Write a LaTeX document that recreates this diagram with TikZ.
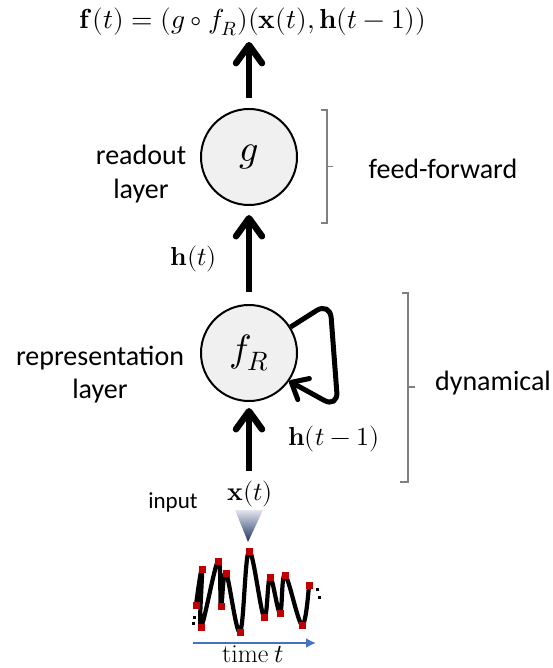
\documentclass[tikz,border=0pt]{standalone}
\usepackage{fontspec}
\usepackage{unicode-math}
\setmainfont{Carlito}
\setmathfont{Latin Modern Math}
\setmathrm{Latin Modern Roman}
\usetikzlibrary{arrows.meta}
\definecolor{sigred}{RGB}{192,0,0}
\definecolor{timeblue}{RGB}{68,114,196}
\definecolor{brkgray}{RGB}{128,128,128}
\definecolor{unitfill}{RGB}{240,240,240}
\definecolor{triTop}{RGB}{226,230,238}
\definecolor{triBot}{RGB}{30,52,98}
\begin{document}
\begin{tikzpicture}[x=1pt,y=-1pt,
  lbl/.style={font=\fontsize{28}{33}\selectfont, align=center, inner sep=0pt},
  mth/.style={font=\fontsize{26}{30}\selectfont, inner sep=0pt},
  unit/.style={circle, draw, line width=2pt, fill=unitfill, minimum size=96pt, inner sep=0pt, font=\fontsize{38}{40}\selectfont},
  bigarrow/.style={line width=6.5pt, -{Straight Barb[length=18pt,width=26pt,round]}},
  loopar/.style={line width=5pt, rounded corners=16pt, -{Straight Barb[length=14pt,width=24pt,round]}},
  brk/.style={draw=brkgray, line width=1.5pt},
]
\useasboundingbox (0,0) rectangle (553,668);

% title formula
\node[mth, font=\fontsize{27.5}{30}\selectfont, anchor=base] (title) at (253,29) {$\symbf{f}(t) = (g\circ f_R)(\symbf{x}(t),\symbf{h}(t-1))$};

% units
\node[unit] (g) at (249,157) {$g$};
\node[unit] (fR) at (249,353) {$f_R$};

% labels
\node[lbl, anchor=base] (ro) at (141,198) {readout\\layer};
\node[lbl, anchor=base] (rep) at (100,398) {representation\\layer};
\node[lbl, anchor=base] (ff) at (443,179) {feed-forward};
\node[lbl, anchor=base] (dyn) at (493,390) {dynamical};
\node[mth, anchor=base east] (ht) at (217,265) {$\symbf{h}(t)$};
\node[mth, anchor=base west] (htm) at (288,445) {$\symbf{h}(t-1)$};
\node[mth, anchor=base] (xt) at (250,500) {$\symbf{x}(t)$};
\node[font=\fontsize{23}{26}\selectfont, inner sep=0pt, anchor=base] (inp) at (173,508) {input};
\node[mth, anchor=base] (time) at (253,662) {$\mathrm{time}~t$};

% arrows
\draw[bigarrow, shorten <=10pt, shorten >=5.5pt] (g.north) -- (g.north |- title.south);
\draw[bigarrow, shorten <=12pt, shorten >=9pt] (fR) -- (g);
\draw[bigarrow, shorten <=9pt, shorten >=6pt] (xt.north -| fR) -- (fR.south);
\draw[loopar] (fR.32) -- (330,302) -- (338,408) -- (fR.-35);

% brackets
\draw[brk] (321,110) -- (327,110) -- (327,223) -- (321,223);
\draw[brk] (327,166.5) -- (333,166.5);
\draw[brk] (402,293) -- (408,293) -- (408,482) -- (400,482);
\draw[brk] (408,387) -- (415,387);

% input funnel
\shade[top color=triTop, bottom color=triBot] (235,510) -- (263,510) -- (248,542) -- cycle;

% signal
\draw[line width=4.2pt, line join=round, line cap=round] plot[smooth, tension=0.6] coordinates {(196,605) (202,569) (201,627) (218,561) (221,606) (226,573) (240,632) (249,551) (264,617) (270,577) (280,613) (285,575) (302,625) (309,585)};
\foreach \p in {(196,605),(202,569),(201,627),(218,561),(221,606),(226,573),(240,632),(249,551),(264,617),(270,577),(280,613),(285,575),(302,625),(309,585)}
  \fill[sigred] \p ++(-3.5,-3.5) rectangle ++(7,7);
\foreach \p in {(194,617),(193,623),(317,589),(319,597)}
  \fill[black] \p ++(-1.5,-1.5) rectangle ++(3,3);

% time axis
\draw[line width=2.5pt, timeblue, -{Latex[length=10pt,width=10pt]}] (193,643) -- (316,643);
\end{tikzpicture}
\end{document}
